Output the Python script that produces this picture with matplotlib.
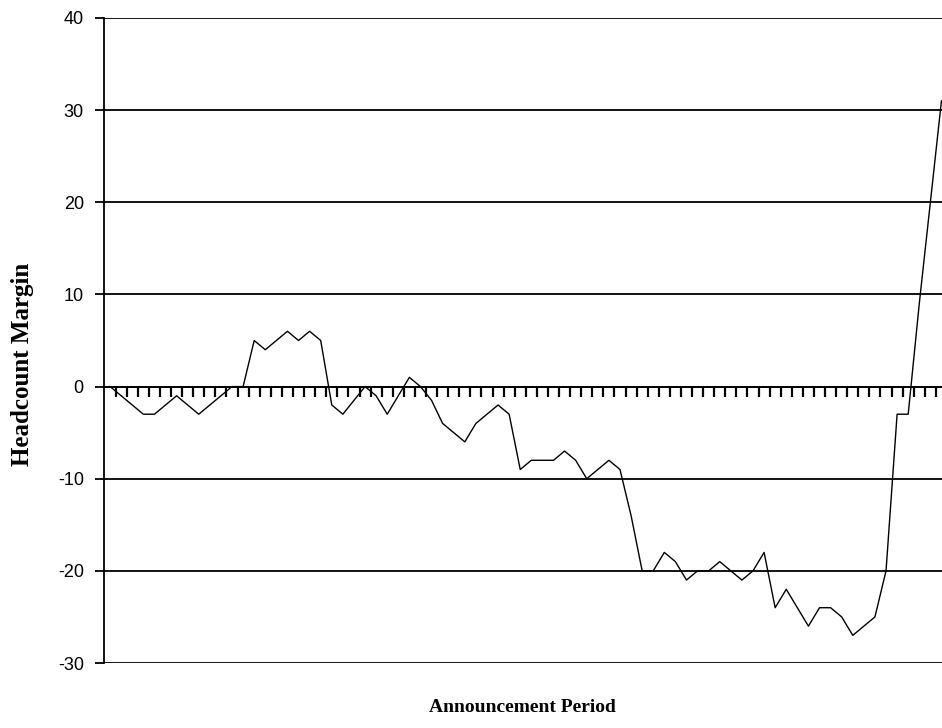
import numpy as np
import matplotlib
matplotlib.use('Agg')
import matplotlib.pyplot as plt

# announcement periods (category axis, unlabelled in the original)
periods = list(range(1, 77))

# headcount margin, one value per period
margin = [0, -1, -2, -3, -3, -2, -1, -2, -3, -2,
          -1, 0, 0, 5, 4, 5, 6, 5, 6, 5,
          -2, -3, -1.5, 0, -1, -3, -1, 1, 0, -1.5,
          -4, -5, -6, -4, -3, -2, -3, -9, -8, -8,
          -8, -7, -8, -10, -9, -8, -9, -14, -20, -20,
          -18, -19, -21, -20, -20, -19, -20, -21, -20, -18,
          -24, -22, -24, -26, -24, -24, -25, -27, -26, -25,
          -20, -3, -3, 9, 20, 31]

y_ticks = [-30, -20, -10, 0, 10, 20, 30, 40]

W, H = 942, 728
fig = plt.figure(figsize=(W / 100, H / 100), dpi=100)
ax = fig.add_axes([104 / W, 1 - 663 / H, 838 / W, (663 - 18) / H])

x = np.arange(len(periods))
ax.plot(x, margin, color='black', lw=1.0, clip_on=False, zorder=3)

ax.set_xlim(-0.55, len(periods) - 0.95)
ax.set_ylim(-30, 40)

# horizontal gridlines in black, like the spreadsheet original
for v in y_ticks:
    ax.axhline(v, color='black', lw=1.3, zorder=1)

for s in ['top', 'right']:
    ax.spines[s].set_visible(False)
ax.spines['left'].set_linewidth(1.3)
ax.spines['bottom'].set_position(('data', 0))
ax.spines['bottom'].set_linewidth(1.3)

ax.set_yticks(y_ticks)
ax.set_yticklabels([str(v) for v in y_ticks], fontfamily='Liberation Sans', fontsize=13)
ax.tick_params(axis='y', direction='out', length=6.5, width=1.3, pad=8)

ax.set_xticks(np.arange(0.5, len(periods) - 1, 1))
ax.set_xticklabels([])
ax.tick_params(axis='x', direction='out', length=7.5, width=1.6)

fig.text((104 + 941) / 2 / W, 1 - 707 / H, 'Announcement Period', ha='center', va='center',
         fontfamily='Liberation Serif', fontweight='bold', fontsize=14)
fig.text(23 / W, 1 - 364 / H, 'Headcount Margin', ha='center', va='center', rotation=90,
         fontfamily='Liberation Serif', fontweight='bold', fontsize=18)

fig.savefig('out.png', dpi=100, facecolor='white')
